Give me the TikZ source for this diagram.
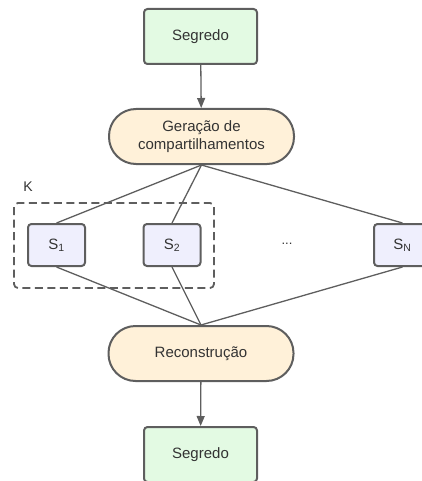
\documentclass[tikz,border=0pt]{standalone}
\usepackage{fontspec}
\setmainfont{Liberation Sans}
\usetikzlibrary{arrows.meta}
\definecolor{edge}{HTML}{5E5E5E}
\definecolor{ink}{HTML}{333333}
\definecolor{secretfill}{HTML}{E3FAE3}
\definecolor{procfill}{HTML}{FFF1D9}
\definecolor{sharefill}{HTML}{EFEFFD}
\tikzset{
  x=1pt, y=-1pt,
  base/.style={draw=edge, line width=2pt, text=ink, font=\fontsize{15}{18.5}\selectfont, align=center, inner sep=0pt},
  secret/.style={base, fill=secretfill, rounded corners=3.5pt, minimum width=113pt, minimum height=55pt},
  proc/.style={base, fill=procfill, rounded corners=27pt, minimum width=185pt, minimum height=55pt},
  share/.style={base, fill=sharefill, rounded corners=3.5pt, minimum width=57pt, minimum height=42pt},
  link/.style={draw=edge, line width=1.3pt},
  flow/.style={link, -{Triangle[length=10pt,width=8pt]}},
  group/.style={draw=edge, line width=1.8pt, dash pattern=on 8pt off 4.5pt, rounded corners=4pt}
}
\begin{document}
\begin{tikzpicture}
  \useasboundingbox (0,0) rectangle (422,481);

  % sharing group
  \draw[group] (14,203) rectangle (214,288);
  \node[text=ink, font=\fontsize{14}{16}\selectfont, inner sep=0pt] (k) at (28,187) {K};

  % main nodes
  \node[secret] (src) at (200.5,36.5) {Segredo};
  \node[proc] (gen) at (201.5,136.5) {Geração de\\compartilhamentos};
  \node[share] (s1) at (56.5,245) {S\textsubscript{1}};
  \node[share] (s2) at (172,245) {S\textsubscript{2}};
  \node[share] (sn) at (402.5,245) {S\textsubscript{N}};
  \node[text=ink, font=\fontsize{13}{15}\selectfont, inner sep=0pt] (dots) at (287,244) {...};
  \node[proc] (rec) at (201,353.5) {Reconstrução};
  \node[secret] (dst) at (200.5,454.5) {Segredo};

  % connectors
  \draw[flow] (src) -- (gen);
  \draw[link] (gen.south) -- (s1.north);
  \draw[link] (gen.south) -- (s2.north);
  \draw[link] (gen.south) -- (sn.north);
  \draw[link] (s1.south) -- (rec.north);
  \draw[link] (s2.south) -- (rec.north);
  \draw[link] (sn.south) -- (rec.north);
  \draw[flow] (rec) -- (dst);
\end{tikzpicture}
\end{document}
